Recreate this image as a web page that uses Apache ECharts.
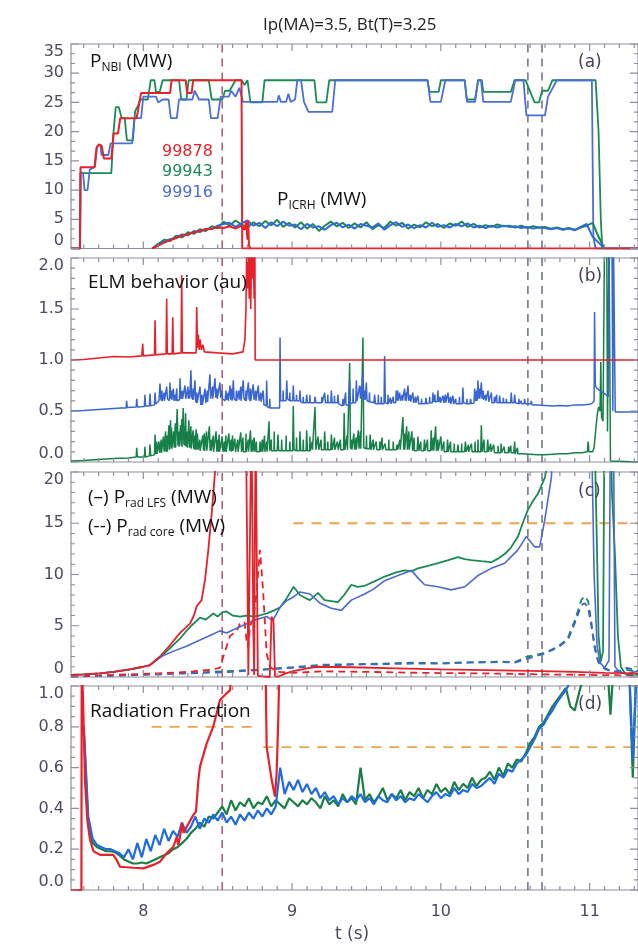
<!DOCTYPE html>
<html><head><meta charset="utf-8">
<script src="https://cdn.jsdelivr.net/npm/echarts@6.0.0/dist/echarts.min.js"></script>
<style>html,body{margin:0;padding:0;background:#fff;}#c{width:638px;height:946px;}</style>
</head><body><div id="c"></div>
<script>
// ---------------- axis ticks ----------------
const X_MIN = 7.514, X_MAX = 11.325;
const xTickLabels = [8, 9, 10, 11];
const yTicksA = [0, 5, 10, 15, 20, 25, 30, 35];
const yTicksB = [0, 0.5, 1.0, 1.5, 2.0];
const yTicksC = [0, 5, 10, 15, 20];
const yTicksD = [0, 0.2, 0.4, 0.6, 0.8, 1.0];

// ---------------- panel (a) P_NBI / P_ICRH ----------------
const nbi99878 = [[7.514,0],[7.574,0],[7.578,13.9],[7.672,13.9],[7.685,17.2],[7.70,17.8],[7.72,17.6],[7.735,15.4],[7.785,15.4],[7.80,19.7],[7.83,19.7],[7.845,22.3],[7.955,22.3],[7.985,26.6],[8.18,26.6],[8.19,28.8],[8.285,28.8],[8.295,26.6],[8.325,26.6],[8.335,28.8],[8.66,28.8],[8.665,0],[11.325,0]];
const nbi99943 = [[7.514,0],[7.575,0],[7.578,12.9],[7.785,12.9],[7.8,20.0],[7.815,24.2],[7.835,24.2],[7.855,22.3],[7.875,22.3],[7.89,18.5],[7.93,18.5],[7.945,23.5],[7.965,24.5],[7.98,25.5],[8.03,25.5],[8.05,28.8],[8.075,28.8],[8.085,26.8],[8.11,26.8],[8.13,28.8],[8.24,28.8],[8.255,25.5],[8.29,25.5],[8.305,28.8],[8.44,28.8],[8.46,25.5],[8.53,25.5],[8.55,27.0],[8.58,27.0],[8.62,28.8],[8.66,28.8],[8.68,28.0],[8.7,28.8],[8.72,25.0],[8.8,25.0],[8.815,28.8],[9.15,28.8],[9.165,25.0],[9.23,25.0],[9.25,28.8],[9.91,28.8],[9.925,26.8],[9.985,26.8],[10.0,28.8],[10.16,28.8],[10.175,25.5],[10.23,25.5],[10.25,28.8],[10.275,28.8],[10.285,26.8],[10.47,26.8],[10.495,28.8],[10.57,28.8],[10.59,27.5],[10.63,25.0],[10.66,25.0],[10.68,27.0],[10.72,27.0],[10.75,28.8],[11.04,28.8],[11.06,20.0],[11.075,5.0],[11.085,0],[11.325,0]];
const nbi99916 = [[7.514,0],[7.575,0],[7.578,13.0],[7.595,13.0],[7.605,10.0],[7.625,10.0],[7.64,13.5],[7.675,14.0],[7.69,17.5],[7.71,17.8],[7.72,16.0],[7.765,16.0],[7.78,18.0],[7.925,18.0],[7.94,22.3],[7.985,22.3],[8.0,26.0],[8.085,26.0],[8.1,25.0],[8.13,25.5],[8.17,25.5],[8.185,22.3],[8.225,22.3],[8.24,25.5],[8.33,25.5],[8.345,27.0],[8.375,25.5],[8.44,25.5],[8.455,22.3],[8.5,22.3],[8.52,26.0],[8.575,26.0],[8.59,27.0],[8.62,26.0],[8.645,27.5],[8.67,25.1],[8.9,25.1],[8.91,26.2],[8.925,25.1],[8.96,25.1],[8.975,26.5],[8.99,25.1],[9.02,25.5],[9.035,28.8],[9.06,28.8],[9.08,25.1],[9.11,23.4],[9.27,23.4],[9.29,28.8],[9.91,28.8],[9.93,25.1],[10.0,25.1],[10.03,28.8],[10.16,28.8],[10.175,25.1],[10.23,25.1],[10.25,28.8],[10.27,28.8],[10.285,25.1],[10.47,25.1],[10.5,28.8],[10.555,28.8],[10.575,22.8],[10.7,22.8],[10.72,26.0],[10.78,28.8],[11.015,28.8],[11.025,2.0],[11.04,0],[11.325,0]];
const icrhTime = [8.06,8.10,8.14,8.18,8.22,8.26,8.30,8.34,8.38,8.42,8.46,8.50,8.54,8.58,8.62,8.66,8.70,8.74,8.78,8.82,8.86,8.90,8.94,8.98,9.02,9.06,9.10,9.14,9.18,9.22,9.26,9.30,9.34,9.38,9.42,9.46,9.50,9.54,9.58,9.62,9.66,9.70,9.74,9.78,9.82,9.86,9.90,9.94,9.98,10.02,10.06,10.10,10.14,10.18,10.22,10.26,10.30,10.34,10.38,10.42,10.46,10.50,10.54,10.58,10.62,10.66,10.70,10.74,10.78,10.82,10.86,10.90,10.94,10.98,11.02,11.06,11.10];
const icrh99943 = [0,0.8,1.5,1.3,2.2,1.9,2.8,2.5,3.3,3.0,3.8,3.5,4.6,3.9,4.8,4.1,3.6,4.5,3.8,4.7,4.0,4.9,3.7,4.4,3.6,4.5,3.4,4.2,3.0,3.9,4.6,3.8,4.4,3.5,4.3,3.6,4.5,3.3,4.0,3.5,4.6,3.9,4.4,3.4,4.1,3.6,4.5,3.8,4.2,3.5,4.3,3.9,4.6,3.7,4.2,3.6,4.0,3.7,4.1,3.8,3.9,3.6,3.9,3.5,3.8,3.6,3.7,3.4,3.6,3.3,3.5,3.2,3.6,3.9,4.4,2.0,0];
const icrh99916 = [0,0.6,1.2,1.6,1.8,2.4,2.3,3.0,2.8,3.4,3.3,3.9,4.2,4.4,3.7,4.3,4.8,3.9,4.4,3.5,4.5,3.8,4.6,3.9,4.1,3.3,4.2,3.6,3.8,3.2,4.0,4.4,3.6,4.1,3.4,4.2,3.9,3.6,4.3,3.2,4.0,4.5,3.7,4.1,3.5,4.0,3.6,4.4,3.7,4.0,3.6,4.2,3.8,4.3,3.6,3.9,3.5,3.9,3.6,3.9,3.7,3.8,3.5,3.7,3.4,3.6,3.5,3.3,3.5,3.2,3.4,3.1,3.7,4.2,2.0,1.0,0];
const icrh99878 = [[8.06,0],[8.10,0.5],[8.14,1.0],[8.18,1.4],[8.22,1.8],[8.26,2.2],[8.30,2.4],[8.34,2.8],[8.38,3.0],[8.42,3.3],[8.46,3.4],[8.50,3.6],[8.54,3.5],[8.58,3.8],[8.62,3.4],[8.66,3.9],[8.68,3.2],[8.69,4.5],[8.70,1.5],[8.705,4.8],[8.71,0.5],[8.72,0]];

// ---------------- panel (b) ELM behaviour ----------------
const elm99878 = [[7.514,1.0],[7.6,1.005],[7.7,1.02],[7.8,1.035],[7.9,1.03],[7.99,1.04],[7.996,1.16],[8.0,1.04],[8.075,1.05],[8.079,1.39],[8.083,1.05],[8.153,1.06],[8.157,1.6],[8.161,1.06],[8.194,1.06],[8.198,1.42],[8.202,1.06],[8.254,1.07],[8.258,1.83],[8.262,1.07],[8.355,1.07],[8.359,1.52],[8.364,1.12],[8.370,1.25],[8.375,1.1],[8.382,1.2],[8.39,1.1],[8.40,1.15],[8.41,1.08],[8.5,1.07],[8.6,1.06],[8.67,1.08],[8.683,1.2],[8.69,1.5],[8.695,2.1],[8.70,1.7],[8.706,2.1],[8.712,1.6],[8.717,2.1],[8.722,1.5],[8.728,2.1],[8.735,1.8],[8.739,2.1],[8.745,1.6],[8.750,2.1],[8.752,1.0],[11.325,1.0]];
const elm99916 = [[7.514,0.5],[7.6,0.505],[7.7,0.515],[7.75,0.52],[7.85,0.53],[7.885,0.53],[7.888,0.6],[7.892,0.535],[7.952,0.54],[7.956,0.62],[7.96,0.54],[8.007,0.545],[8.011,0.66],[8.015,0.55],[8.041,0.55],[8.045,0.67],[8.05,0.55],[8.075,0.56],[8.079,0.68],[8.083,0.57],[8.105,0.6],[8.112,0.77],[8.118,0.62],[8.13,0.6],[8.153,0.6],[8.157,0.74],[8.162,0.62],[8.175,0.6],[8.179,0.78],[8.184,0.62],[8.198,0.6],[8.202,0.72],[8.206,0.6],[8.243,0.61],[8.247,0.82],[8.252,0.62],[8.276,0.62],[8.28,0.75],[8.285,0.62],[8.316,0.62],[8.32,0.9],[8.325,0.64],[8.343,0.6],[8.347,0.8],[8.352,0.6],[8.372,0.57],[8.381,0.74],[8.386,0.56],[8.41,0.56],[8.415,0.72],[8.42,0.58],[8.444,0.6],[8.448,0.86],[8.453,0.62],[8.478,0.62],[8.482,0.82],[8.487,0.63],[8.51,0.62],[8.515,0.78],[8.52,0.63],[8.55,0.6],[8.555,0.7],[8.56,0.61],[8.579,0.6],[8.583,0.75],[8.588,0.61],[8.6,0.6],[8.605,0.8],[8.61,0.62],[8.635,0.6],[8.64,0.7],[8.645,0.61],[8.668,0.6],[8.672,0.8],[8.677,0.62],[8.702,0.6],[8.706,0.78],[8.711,0.62],[8.735,0.6],[8.739,0.76],[8.744,0.61],[8.769,0.6],[8.773,0.75],[8.778,0.6],[8.802,0.58],[8.806,0.7],[8.811,0.56],[8.826,0.55],[8.829,0.8],[8.834,0.54],[8.87,0.53],[8.9,0.53],[8.916,0.53],[8.919,1.22],[8.923,0.6],[8.96,0.6],[8.964,0.8],[8.969,0.62],[9.004,0.6],[9.008,0.75],[9.013,0.6],[9.05,0.6],[9.053,0.7],[9.058,0.59],[9.094,0.58],[9.098,0.66],[9.103,0.58],[9.15,0.58],[9.154,0.64],[9.16,0.58],[9.215,0.58],[9.219,0.68],[9.224,0.58],[9.26,0.58],[9.264,0.7],[9.269,0.58],[9.304,0.58],[9.308,0.66],[9.313,0.57],[9.338,0.55],[9.342,0.62],[9.347,0.55],[9.383,0.56],[9.387,0.8],[9.392,0.57],[9.428,0.58],[9.432,0.8],[9.437,0.6],[9.45,0.6],[9.454,0.75],[9.46,0.62],[9.472,0.62],[9.476,0.88],[9.482,0.63],[9.495,0.6],[9.499,0.78],[9.504,0.6],[9.55,0.58],[9.555,0.66],[9.56,0.57],[9.618,0.57],[9.622,1.04],[9.627,0.58],[9.655,0.57],[9.66,0.63],[9.665,0.57],[9.696,0.58],[9.7,0.7],[9.705,0.6],[9.719,0.6],[9.723,0.68],[9.728,0.6],[9.752,0.6],[9.756,0.72],[9.761,0.6],[9.775,0.6],[9.779,0.75],[9.784,0.6],[9.808,0.59],[9.812,0.68],[9.817,0.58],[9.842,0.58],[9.846,0.65],[9.851,0.57],[9.895,0.57],[9.9,0.63],[9.905,0.57],[9.943,0.58],[9.947,0.68],[9.952,0.59],[9.976,0.59],[9.98,0.7],[9.985,0.59],[10.01,0.58],[10.014,0.65],[10.019,0.58],[10.044,0.58],[10.048,0.68],[10.053,0.58],[10.077,0.57],[10.081,0.65],[10.086,0.57],[10.144,0.57],[10.148,0.73],[10.153,0.58],[10.195,0.57],[10.2,0.62],[10.205,0.57],[10.223,0.58],[10.227,0.72],[10.232,0.6],[10.245,0.62],[10.249,0.8],[10.254,0.64],[10.268,0.62],[10.272,0.78],[10.277,0.62],[10.313,0.6],[10.317,0.7],[10.322,0.59],[10.335,0.59],[10.339,0.68],[10.344,0.58],[10.391,0.58],[10.395,0.65],[10.4,0.58],[10.469,0.58],[10.473,0.68],[10.478,0.58],[10.492,0.58],[10.496,0.66],[10.501,0.58],[10.56,0.57],[10.563,0.62],[10.568,0.57],[10.604,0.57],[10.608,0.6],[10.613,0.56],[10.65,0.56],[10.7,0.555],[10.75,0.55],[10.8,0.555],[10.85,0.55],[10.9,0.56],[10.95,0.56],[11.0,0.565],[11.02,0.58],[11.03,0.6],[11.033,1.47],[11.038,0.75],[11.05,0.72],[11.07,0.7],[11.09,0.68],[11.11,0.66],[11.125,0.64],[11.134,2.2],[11.15,2.2],[11.156,0.5],[11.16,2.2],[11.168,2.2],[11.172,0.49],[11.325,0.49]];
const elm99916Small = [[8.125,0.7,0.6],[8.14,0.68,0.6],[8.19,0.7,0.61],[8.215,0.66,0.6],[8.225,0.72,0.6],[8.262,0.7,0.62],[8.3,0.74,0.62],[8.31,0.7,0.62],[8.335,0.72,0.61],[8.36,0.68,0.58],[8.395,0.66,0.56],[8.43,0.7,0.59],[8.465,0.74,0.62],[8.495,0.72,0.62],[8.53,0.7,0.62],[8.57,0.68,0.6],[8.595,0.72,0.6],[8.625,0.7,0.6],[8.655,0.74,0.6],[8.69,0.7,0.6],[8.72,0.72,0.6],[8.755,0.7,0.6],[8.79,0.68,0.59],[8.85,0.62,0.53],[8.94,0.7,0.6],[8.985,0.68,0.6],[9.03,0.66,0.6],[9.075,0.64,0.58],[9.12,0.66,0.58],[9.2,0.64,0.58],[9.24,0.66,0.58],[9.285,0.65,0.58],[9.36,0.68,0.56],[9.41,0.72,0.58],[9.465,0.74,0.62],[9.49,0.7,0.61],[9.52,0.68,0.59],[9.58,0.66,0.57],[9.6,0.64,0.57],[9.645,0.66,0.57],[9.68,0.64,0.58],[9.71,0.7,0.6],[9.74,0.66,0.6],[9.765,0.68,0.6],[9.795,0.66,0.59],[9.83,0.64,0.58],[9.87,0.62,0.57],[9.925,0.64,0.58],[9.96,0.66,0.59],[9.995,0.64,0.58],[10.03,0.66,0.58],[10.065,0.64,0.57],[10.1,0.62,0.57],[10.125,0.64,0.57],[10.175,0.62,0.57],[10.24,0.7,0.6],[10.26,0.72,0.62],[10.285,0.7,0.61],[10.3,0.66,0.6],[10.36,0.64,0.58],[10.375,0.66,0.58],[10.42,0.63,0.58],[10.44,0.62,0.58],[10.525,0.62,0.57],[10.54,0.6,0.57]];
const elm99943 = [[7.514,0.01],[7.6,0.015],[7.7,0.025],[7.8,0.035],[7.9,0.04],[7.952,0.05],[7.956,0.14],[7.96,0.05],[8.007,0.05],[8.011,0.15],[8.015,0.05],[8.041,0.06],[8.045,0.17],[8.05,0.06],[8.075,0.07],[8.079,0.27],[8.083,0.08],[8.1,0.08],[8.105,0.2],[8.11,0.09],[8.13,0.1],[8.135,0.25],[8.14,0.1],[8.168,0.1],[8.172,0.36],[8.176,0.12],[8.183,0.41],[8.188,0.14],[8.2,0.13],[8.204,0.3],[8.208,0.14],[8.225,0.14],[8.228,0.52],[8.233,0.16],[8.245,0.15],[8.25,0.36],[8.255,0.16],[8.264,0.15],[8.268,0.53],[8.273,0.17],[8.28,0.16],[8.284,0.48],[8.289,0.15],[8.3,0.14],[8.306,0.41],[8.311,0.14],[8.33,0.13],[8.334,0.31],[8.339,0.13],[8.36,0.12],[8.364,0.28],[8.369,0.12],[8.395,0.11],[8.4,0.26],[8.405,0.11],[8.44,0.11],[8.444,0.35],[8.449,0.11],[8.485,0.1],[8.489,0.3],[8.494,0.1],[8.525,0.1],[8.53,0.25],[8.535,0.1],[8.57,0.1],[8.575,0.28],[8.58,0.11],[8.61,0.11],[8.615,0.23],[8.62,0.1],[8.65,0.1],[8.655,0.29],[8.66,0.1],[8.715,0.1],[8.72,0.31],[8.725,0.1],[8.74,0.1],[8.745,0.24],[8.75,0.1],[8.78,0.1],[8.785,0.2],[8.79,0.1],[8.84,0.11],[8.845,0.4],[8.85,0.11],[8.9,0.11],[8.905,0.27],[8.91,0.11],[9.004,0.11],[9.008,0.55],[9.013,0.12],[9.05,0.11],[9.053,0.3],[9.058,0.11],[9.094,0.11],[9.098,0.31],[9.103,0.11],[9.15,0.12],[9.154,0.54],[9.16,0.12],[9.17,0.12],[9.174,0.25],[9.18,0.12],[9.215,0.12],[9.219,0.3],[9.224,0.12],[9.26,0.12],[9.264,0.27],[9.27,0.12],[9.3,0.12],[9.305,0.2],[9.31,0.12],[9.346,0.12],[9.35,0.48],[9.355,0.12],[9.383,0.12],[9.387,0.97],[9.392,0.13],[9.41,0.12],[9.415,0.28],[9.42,0.12],[9.44,0.12],[9.445,0.31],[9.45,0.13],[9.472,0.13],[9.476,1.22],[9.482,0.14],[9.52,0.13],[9.525,0.27],[9.53,0.12],[9.56,0.12],[9.565,0.2],[9.57,0.12],[9.62,0.12],[9.625,0.18],[9.63,0.12],[9.7,0.12],[9.705,0.17],[9.71,0.12],[9.74,0.12],[9.745,0.44],[9.75,0.12],[9.765,0.12],[9.77,0.35],[9.775,0.12],[9.8,0.12],[9.805,0.3],[9.81,0.11],[9.84,0.11],[9.846,0.25],[9.852,0.11],[9.885,0.11],[9.89,0.22],[9.895,0.11],[9.93,0.11],[9.935,0.31],[9.94,0.11],[9.96,0.11],[9.965,0.35],[9.97,0.11],[9.995,0.11],[10.0,0.25],[10.005,0.11],[10.04,0.1],[10.045,0.22],[10.05,0.1],[10.11,0.1],[10.115,0.17],[10.12,0.1],[10.16,0.1],[10.165,0.2],[10.17,0.1],[10.2,0.1],[10.205,0.18],[10.21,0.1],[10.268,0.1],[10.272,0.36],[10.277,0.1],[10.31,0.1],[10.315,0.22],[10.32,0.1],[10.35,0.1],[10.355,0.17],[10.36,0.09],[10.42,0.09],[10.425,0.15],[10.43,0.09],[10.49,0.09],[10.496,0.2],[10.5,0.08],[10.55,0.08],[10.6,0.075],[10.65,0.07],[10.7,0.07],[10.75,0.075],[10.8,0.08],[10.85,0.08],[10.9,0.09],[10.95,0.09],[10.985,0.1],[10.99,0.2],[10.995,0.1],[11.02,0.1],[11.03,0.14],[11.04,0.3],[11.05,0.45],[11.06,0.54],[11.07,0.5],[11.075,0.98],[11.08,0.44],[11.09,0.4],[11.1,2.2],[11.115,2.2],[11.12,0.3],[11.13,2.2],[11.14,0.01],[11.325,0.0]];
const elm99943Small = [[8.09,0.2,0.08],[8.12,0.22,0.09],[8.15,0.3,0.1],[8.16,0.26,0.1],[8.19,0.33,0.13],[8.215,0.38,0.14],[8.238,0.3,0.15],[8.258,0.42,0.15],[8.277,0.35,0.16],[8.295,0.3,0.14],[8.32,0.35,0.13],[8.345,0.26,0.12],[8.355,0.32,0.12],[8.38,0.22,0.11],[8.41,0.28,0.11],[8.425,0.3,0.11],[8.455,0.22,0.11],[8.47,0.26,0.1],[8.5,0.22,0.1],[8.51,0.27,0.1],[8.545,0.2,0.1],[8.555,0.26,0.1],[8.59,0.22,0.1],[8.6,0.26,0.11],[8.635,0.22,0.1],[8.67,0.24,0.1],[8.69,0.28,0.1],[8.705,0.22,0.1],[8.735,0.22,0.1],[8.76,0.2,0.1],[8.8,0.22,0.1],[8.815,0.26,0.1],[8.83,0.2,0.1],[8.86,0.22,0.11],[8.88,0.3,0.11],[8.93,0.22,0.11],[8.96,0.26,0.11],[8.985,0.2,0.11],[9.03,0.24,0.11],[9.075,0.22,0.11],[9.12,0.25,0.11],[9.135,0.2,0.12],[9.195,0.22,0.12],[9.24,0.2,0.12],[9.285,0.24,0.12],[9.325,0.22,0.12],[9.37,0.26,0.12],[9.4,0.22,0.12],[9.43,0.24,0.12],[9.46,0.3,0.13],[9.5,0.26,0.13],[9.545,0.22,0.12],[9.59,0.2,0.12],[9.605,0.24,0.12],[9.65,0.22,0.12],[9.68,0.2,0.12],[9.725,0.22,0.12],[9.755,0.28,0.12],[9.785,0.3,0.12],[9.82,0.24,0.11],[9.865,0.2,0.11],[9.91,0.22,0.11],[9.95,0.24,0.11],[9.98,0.22,0.11],[10.02,0.2,0.1],[10.065,0.2,0.1],[10.09,0.18,0.1],[10.14,0.18,0.1],[10.185,0.17,0.1],[10.23,0.2,0.1],[10.25,0.22,0.1],[10.29,0.22,0.1],[10.335,0.18,0.1],[10.385,0.16,0.09],[10.405,0.18,0.09],[10.455,0.15,0.09],[10.47,0.16,0.09],[10.515,0.14,0.08]];

// ---------------- panel (c) P_rad LFS (solid) / P_rad core (dashed) ----------------
const lfs99878 = [[7.514,0.2],[7.6,0.25],[7.709,0.35],[7.8,0.5],[7.911,0.75],[8.0,1.0],[8.045,1.17],[8.112,2.0],[8.179,3.1],[8.247,4.3],[8.314,5.2],[8.34,6.0],[8.359,6.9],[8.392,7.5],[8.415,9.5],[8.437,12.4],[8.46,16],[8.482,20],[8.5,24],[8.69,24],[8.70,10],[8.706,0.2],[8.715,0.1],[8.722,20],[8.728,24],[8.735,24],[8.739,5],[8.745,0.2],[8.75,15],[8.755,24],[8.76,24],[8.765,8],[8.77,0.1],[8.85,0.0],[8.862,5.9],[8.875,5.5],[8.885,0.1],[8.9,0.0],[8.95,0.3],[9.0,0.55],[9.05,0.7],[9.1,0.85],[9.17,1.0],[9.4,0.95],[9.7,0.85],[10.0,0.75],[10.3,0.68],[10.6,0.6],[10.9,0.5],[11.1,0.4],[11.325,0.35]];
const lfs99943 = [[7.514,0.2],[7.6,0.25],[7.709,0.35],[7.8,0.5],[7.911,0.75],[8.0,1.0],[8.045,1.17],[8.112,1.95],[8.134,2.2],[8.2,3.1],[8.25,3.8],[8.29,4.5],[8.33,5.1],[8.381,5.8],[8.42,5.6],[8.47,6.2],[8.5,5.9],[8.53,6.3],[8.56,6.4],[8.6,6.0],[8.65,5.9],[8.7,6.0],[8.74,5.9],[8.78,6.0],[8.83,6.2],[8.88,6.5],[8.92,6.8],[8.96,7.6],[9.01,8.8],[9.053,8.0],[9.09,7.7],[9.12,7.5],[9.174,8.2],[9.219,7.5],[9.263,7.4],[9.308,7.3],[9.35,8.0],[9.398,9.0],[9.44,8.8],[9.488,8.9],[9.55,9.3],[9.622,9.8],[9.7,10.2],[9.757,10.4],[9.8,10.3],[9.846,10.6],[9.9,10.8],[9.981,11.1],[10.05,11.4],[10.115,11.7],[10.16,11.5],[10.204,11.4],[10.27,11.3],[10.339,11.2],[10.39,11.6],[10.429,12.0],[10.47,12.6],[10.518,13.7],[10.55,15.0],[10.585,16.3],[10.62,17.2],[10.653,17.9],[10.7,19.5],[10.72,21],[10.74,26],[11.03,26],[11.05,12],[11.06,4],[11.075,1.5],[11.09,2.5],[11.1,26],[11.14,26],[11.15,18],[11.17,12],[11.19,4],[11.21,1.0],[11.24,0.3],[11.325,0.2]];
const lfs99916 = [[7.514,0.2],[7.6,0.25],[7.709,0.35],[7.8,0.5],[7.911,0.75],[8.0,1.0],[8.045,1.15],[8.112,1.9],[8.134,2.1],[8.2,2.5],[8.29,3.0],[8.381,3.6],[8.47,4.2],[8.515,4.5],[8.56,4.3],[8.605,4.6],[8.65,4.9],[8.695,5.2],[8.74,5.5],[8.784,5.7],[8.829,5.9],[8.87,5.5],[8.919,6.8],[8.96,7.4],[9.008,7.8],[9.053,8.3],[9.12,8.1],[9.188,7.2],[9.263,6.7],[9.331,6.5],[9.398,7.5],[9.488,8.1],[9.55,8.6],[9.622,9.4],[9.712,9.9],[9.802,10.4],[9.85,9.6],[9.891,9.0],[9.98,8.8],[10.07,8.5],[10.16,8.8],[10.249,9.9],[10.339,10.6],[10.429,11.1],[10.518,12.4],[10.574,13.7],[10.63,12.7],[10.664,12.7],[10.698,15.3],[10.743,19.5],[10.76,26],[11.01,26],[11.03,10],[11.05,3],[11.07,1.4],[11.1,0.9],[11.13,1.6],[11.14,26],[11.16,26],[11.17,1.0],[11.2,0.5],[11.25,0.3],[11.325,0.6]];
const core99878 = [[7.514,0.1],[7.7,0.15],[7.9,0.25],[8.1,0.35],[8.3,0.5],[8.45,0.7],[8.515,0.9],[8.538,2.0],[8.56,3.0],[8.583,4.0],[8.628,4.5],[8.65,5.2],[8.68,5.4],[8.695,3.4],[8.705,2.9],[8.717,5.0],[8.739,5.6],[8.76,8.0],[8.784,12.4],[8.806,8.2],[8.829,2.3],[8.851,1.0],[8.9,0.5],[9.0,0.4],[9.2,0.55],[9.5,0.5],[9.9,0.4],[10.3,0.35],[10.7,0.25],[11.0,0.2],[11.325,0.15]];
const core99943 = [[7.514,0.05],[7.8,0.15],[8.0,0.25],[8.2,0.35],[8.4,0.45],[8.6,0.6],[8.8,0.75],[9.0,0.95],[9.2,1.2],[9.4,1.25],[9.6,1.3],[9.8,1.4],[10.0,1.35],[10.2,1.45],[10.4,1.5],[10.5,1.45],[10.56,1.9],[10.62,2.1],[10.68,2.3],[10.72,2.5],[10.79,3.0],[10.85,3.7],[10.9,5.5],[10.944,7.5],[10.966,7.9],[10.99,7.4],[11.01,5.5],[11.034,3.0],[11.056,1.7],[11.078,1.2],[11.1,0.9],[11.14,0.6],[11.2,0.5],[11.25,0.7],[11.325,0.5]];
const core99916 = [[7.514,0.05],[7.8,0.12],[8.0,0.2],[8.2,0.3],[8.4,0.4],[8.6,0.5],[8.8,0.7],[9.0,0.9],[9.2,1.1],[9.4,1.2],[9.6,1.25],[9.8,1.3],[10.0,1.3],[10.2,1.4],[10.4,1.45],[10.5,1.4],[10.56,1.7],[10.62,1.95],[10.7,2.3],[10.787,2.9],[10.854,3.6],[10.899,5.2],[10.944,7.0],[10.966,7.2],[10.989,6.8],[11.011,5.0],[11.034,2.8],[11.056,1.5],[11.078,1.1],[11.1,0.8],[11.15,0.5],[11.2,0.6],[11.25,0.9],[11.325,0.6]];

// ---------------- panel (d) radiation fraction ----------------
const fracTime = [7.60,7.63,7.66,7.69,7.72,7.75,7.78,7.81,7.84,7.87,7.90,7.93,7.96,7.99,8.02,8.05,8.08,8.11,8.14,8.17,8.20,8.23,8.26,8.29,8.32,8.35,8.38,8.41,8.44,8.47,8.50,8.53,8.56,8.59,8.62,8.65,8.68,8.71,8.74,8.77,8.80,8.83,8.86,8.89,8.92,8.95,8.98,9.01,9.04,9.07,9.10,9.13,9.16,9.19,9.22,9.25,9.28,9.31,9.34,9.37,9.40,9.43,9.46,9.49,9.52,9.55,9.58,9.61,9.64,9.67,9.70,9.73,9.76,9.79,9.82,9.85,9.88,9.91,9.94,9.97,10.00,10.03,10.06,10.09,10.12,10.15,10.18,10.21,10.24,10.27,10.30,10.33,10.36,10.39,10.42,10.45,10.48,10.51,10.54,10.57,10.60,10.63,10.66,10.69,10.72,10.75,10.78,10.81,10.84,10.87,10.90,10.93,10.96,10.99,11.02,11.05,11.08,11.11,11.14,11.17,11.20,11.23,11.26,11.29,11.32];
const frac99943 = [0.78,0.32,0.23,0.21,0.2,0.19,0.19,0.185,0.17,0.15, 0.14,0.13,0.13,0.135,0.13,0.14,0.15,0.16,0.17,0.18, 0.2,0.21,0.23,0.25,0.28,0.3,0.33,0.31,0.36,0.35, 0.38,0.41,0.37,0.44,0.39,0.43,0.41,0.45,0.4,0.43, 0.42,0.46,0.41,0.44,0.42,0.4,0.45,0.43,0.41,0.44, 0.42,0.45,0.43,0.4,0.46,0.42,0.44,0.41,0.47,0.43, 0.45,0.42,0.6,0.44,0.47,0.43,0.46,0.5,0.44,0.47, 0.45,0.49,0.44,0.48,0.46,0.5,0.45,0.49,0.47,0.52, 0.48,0.5,0.47,0.53,0.49,0.52,0.5,0.55,0.51,0.54, 0.55,0.58,0.54,0.6,0.56,0.62,0.6,0.64,0.63,0.67, 0.72,0.75,0.8,0.82,0.86,0.9,0.93,0.96,0.99,0.9, 0.88,0.97,1.05,1.1,1.2,1.2,1.2,1.2,0.86,1.2, 1.2,1.2,1.2,0.55,1.2];
const frac99916 = [0.8,0.36,0.25,0.22,0.21,0.2,0.2,0.19,0.18,0.16, 0.2,0.15,0.23,0.16,0.25,0.19,0.27,0.22,0.3,0.24, 0.29,0.26,0.33,0.28,0.31,0.36,0.3,0.35,0.33,0.37, 0.34,0.38,0.33,0.36,0.32,0.37,0.34,0.38,0.35,0.39, 0.36,0.4,0.37,0.41,0.6,0.47,0.53,0.49,0.54,0.48, 0.52,0.47,0.5,0.45,0.48,0.44,0.46,0.42,0.45,0.43, 0.46,0.44,0.47,0.43,0.45,0.42,0.46,0.44,0.43,0.47, 0.44,0.46,0.43,0.45,0.44,0.47,0.45,0.43,0.46,0.48, 0.45,0.47,0.46,0.5,0.47,0.49,0.48,0.52,0.5,0.51, 0.53,0.55,0.52,0.57,0.55,0.59,0.58,0.62,0.64,0.66, 0.7,0.74,0.79,0.81,0.85,0.88,0.92,0.95,0.98,1.02, 1.05,1.1,1.2,1.2,1.2,1.2,1.2,1.2,1.2,1.2, 1.2,1.2,1.2,0.64,1.2];
const frac99878 = [[7.514,0],[7.584,0],[7.586,1.2],[7.592,1.2],[7.597,0.87],[7.608,0.54],[7.624,0.34],[7.642,0.245],[7.665,0.19],[7.709,0.172],[7.798,0.172],[7.821,0.147],[7.843,0.114],[7.933,0.109],[8.0,0.106],[8.067,0.123],[8.112,0.139],[8.157,0.18],[8.202,0.212],[8.225,0.26],[8.235,0.22],[8.247,0.261],[8.26,0.33],[8.27,0.28],[8.292,0.31],[8.336,0.368],[8.354,0.384],[8.37,0.539],[8.381,0.605],[8.426,0.719],[8.47,0.801],[8.493,0.866],[8.515,0.931],[8.56,0.964],[8.583,0.98],[8.605,1.2],[8.82,1.2],[8.829,0.703],[8.863,0.539],[8.885,0.458],[8.896,0.572],[8.907,0.833],[8.918,1.2],[11.325,1.2]];

// ---------------- reference lines ----------------
const redMarkerTime = 8.53;
const greyMarkerTimes = [10.585, 10.68];
const thresholdC = [[9.009, 15, X_MAX]];             // [start, level, end]
const thresholdD = [[8.056, 0.8, 8.773], [8.806, 0.7, X_MAX]];

// ---------------- build ----------------
const RED = '#e8202a', GREEN = '#1b8a55', BLUE = '#4a6fd6';
const AXC = '#8e8e9c', LABC = '#4b4b60';
const PLOT_W = 567;
const zip = (t, v) => t.map((x, i) => [x, v[i]]);
const withSpikes = (trace, spikes) => trace.concat(...spikes.map(s => [[s[0] - 0.002, s[2]], [s[0], s[1]], [s[0] + 0.002, s[2]]])).sort((a, b) => a[0] - b[0]);
const xMinorTicks = []; for (let k = 76; k <= 113; k++) if (k % 10) xMinorTicks.push(k / 10);

const panels = [
  {top:44, height:204.5, max:35, interval:5, minor:3, ticks:yTicksA, dec:0},
  {top:258, height:204, max:2, interval:0.5, minor:5, ticks:yTicksB, dec:1},
  {top:472, height:205, max:20, interval:5, minor:5, ticks:yTicksC, dec:0},
  {top:686, height:204, max:1, interval:0.2, minor:4, ticks:yTicksD, dec:1}
];
const grid = [], xAxis = [], yAxis = [];
panels.forEach((p, g) => {
  grid.push({left:71, right:0, top:p.top, height:p.height, show:true, borderColor:AXC, borderWidth:1.2});
  xAxis.push({type:'value', gridIndex:g, min:X_MIN, max:X_MAX, position:'bottom', splitLine:{show:false}, axisLine:{show:false}, axisTick:{show:false},
    axisLabel:{show:g === 3, customValues:xTickLabels, margin:14, color:LABC, fontSize:16, fontFamily:'DejaVu Sans'}});
  yAxis.push({type:'value', gridIndex:g, min:0, max:p.max, interval:p.interval, position:'left', splitLine:{show:false}, axisLine:{show:false}, axisTick:{show:false},
    axisLabel:{show:true, color:LABC, fontSize:16, fontFamily:'DejaVu Sans', margin:7, formatter: v => v.toFixed(p.dec),
      verticalAlignMinLabel:'bottom', verticalAlignMaxLabel:'top'}});
});

// tick marks on all four sides, as broken polylines in each panel's own axes
function tickLines(g, p) {
  const dx = len => len / PLOT_W * (X_MAX - X_MIN);
  const dy = len => len / p.height * p.max;
  const xt = xTickLabels.map(v => [v, 7]).concat(xMinorTicks.map(v => [v, 4]));
  const yt = p.ticks.map(v => [v, 8]);
  for (let i = 0; i < p.ticks.length - 1; i++)
    for (let k = 1; k < p.minor; k++) yt.push([p.ticks[i] + (p.ticks[i + 1] - p.ticks[i]) * k / p.minor, 4]);
  const d = [];
  xt.forEach(([v, L]) => { d.push([v, 0], [v, dy(L)], [v, null], [v, p.max], [v, p.max - dy(L)], [v, null]); });
  yt.forEach(([v, L]) => { d.push([X_MIN, v], [X_MIN + dx(L), v], [X_MIN, null], [X_MAX, v], [X_MAX - dx(L), v], [X_MAX, null]); });
  return {type:'line', xAxisIndex:g, yAxisIndex:g, data:d, showSymbol:false, symbol:'none', silent:true, animation:false,
    connectNulls:false, clip:false, z:4, lineStyle:{color:AXC, width:1.2}};
}

const ln = (g, data, color, width, dashed) => ({
  type:'line', xAxisIndex:g, yAxisIndex:g, data, showSymbol:false, symbol:'none', silent:true,
  animation:false, lineStyle:{color, width, type: dashed ? [7,5] : 'solid'}
});
const vline = (g, t, max, color) => ({type:'line', xAxisIndex:g, yAxisIndex:g, data:[[t, 0], [t, max]], showSymbol:false, symbol:'none', silent:true,
  animation:false, z:1, lineStyle:{color, width:1.3, type:[8,6]}});
const hline = (g, s) => ({type:'line', xAxisIndex:g, yAxisIndex:g, data:[[s[0], s[1]], [s[2], s[1]]], showSymbol:false, symbol:'none', silent:true,
  animation:false, z:1, lineStyle:{color:'#f0a44a', width:1.8, type:[10,8]}});

const series = [];
panels.forEach((p, g) => {
  series.push(vline(g, redMarkerTime, p.max, '#9c3c55'));
  greyMarkerTimes.forEach(t => series.push(vline(g, t, p.max, '#4f586b')));
});
thresholdC.forEach(s => series.push(hline(2, s)));
thresholdD.forEach(s => series.push(hline(3, s)));
series.push(
  ln(0, nbi99943, GREEN, 1.8), ln(0, nbi99916, BLUE, 1.8), ln(0, nbi99878, RED, 2),
  ln(0, zip(icrhTime, icrh99943), '#1a8a4c', 2), ln(0, zip(icrhTime, icrh99916), '#2f6ad8', 2), ln(0, icrh99878, RED, 2),
  ln(1, withSpikes(elm99943, elm99943Small), '#168048', 1.5), ln(1, withSpikes(elm99916, elm99916Small), '#3a66d2', 1.5), ln(1, elm99878, RED, 1.6),
  ln(2, core99943, '#1a8a55', 1.8, true), ln(2, core99916, '#3f66cf', 1.8, true), ln(2, core99878, RED, 1.8, true),
  ln(2, lfs99943, '#1a8a55', 1.8), ln(2, lfs99916, '#4a6ad0', 1.6), ln(2, lfs99878, RED, 1.8),
  ln(3, zip(fracTime, frac99943), '#1b7f45', 2.2), ln(3, zip(fracTime, frac99916), '#1f6ce0', 2.2), ln(3, frac99878, RED, 2.2)
);
panels.forEach((p, g) => series.push(tickLines(g, p)));

const txt = (x, y, text, font, fill, extra) => ({type:'text', x, y, silent:true, z:100,
  style:Object.assign({text, font, fill, textVerticalAlign:'middle'}, extra || {})});
const sub = (main1, s, main2) => ({
  text: '{m|' + main1 + '}{s|' + s + '}{m|' + main2 + '}',
  rich: {m:{fontSize:19, fontFamily:'Open Sans', fill:'#111', lineHeight:24},
         s:{fontSize:12, fontFamily:'Open Sans', fill:'#111', verticalAlign:'bottom', lineHeight:24, height:12}}
});
const F19 = '19px "Open Sans"';
const graphic = [
  txt(263, 25, 'Ip(MA)=3.5, Bt(T)=3.25', '17px "Open Sans"', '#222'),
  txt(90, 62, '', F19, '#111', sub('P', 'NBI', ' (MW)')),
  txt(277, 200, '', F19, '#111', sub('P', 'ICRH', ' (MW)')),
  txt(162, 152, '99878', '16px "DejaVu Sans"', RED),
  txt(162, 172, '99943', '16px "DejaVu Sans"', '#1f8a5a'),
  txt(162, 193, '99916', '16px "DejaVu Sans"', '#4a70d8'),
  txt(88, 283, 'ELM behavior (au)', F19, '#111'),
  txt(88, 498, '', F19, '#111', sub('(\u2013) P', 'rad LFS', ' (MW)')),
  txt(88, 527, '', F19, '#111', sub('(--) P', 'rad core', ' (MW)')),
  txt(90, 712, 'Radiation Fraction', F19, '#111'),
  txt(578, 63, '(a)', '17px "DejaVu Sans"', '#4a3f5c'),
  txt(578, 277, '(b)', '17px "DejaVu Sans"', '#4a3f5c'),
  txt(578, 492, '(c)', '17px "DejaVu Sans"', '#4a3f5c'),
  txt(578, 705, '(d)', '17px "DejaVu Sans"', '#4a3f5c'),
  txt(335, 935, 't (s)', '17px "DejaVu Sans"', LABC)
];

const chart = echarts.init(document.getElementById('c'), null, {renderer:'canvas', width:638, height:946});
chart.setOption({animation:false, backgroundColor:'#fff', grid, xAxis, yAxis, series, graphic});
</script></body></html>
